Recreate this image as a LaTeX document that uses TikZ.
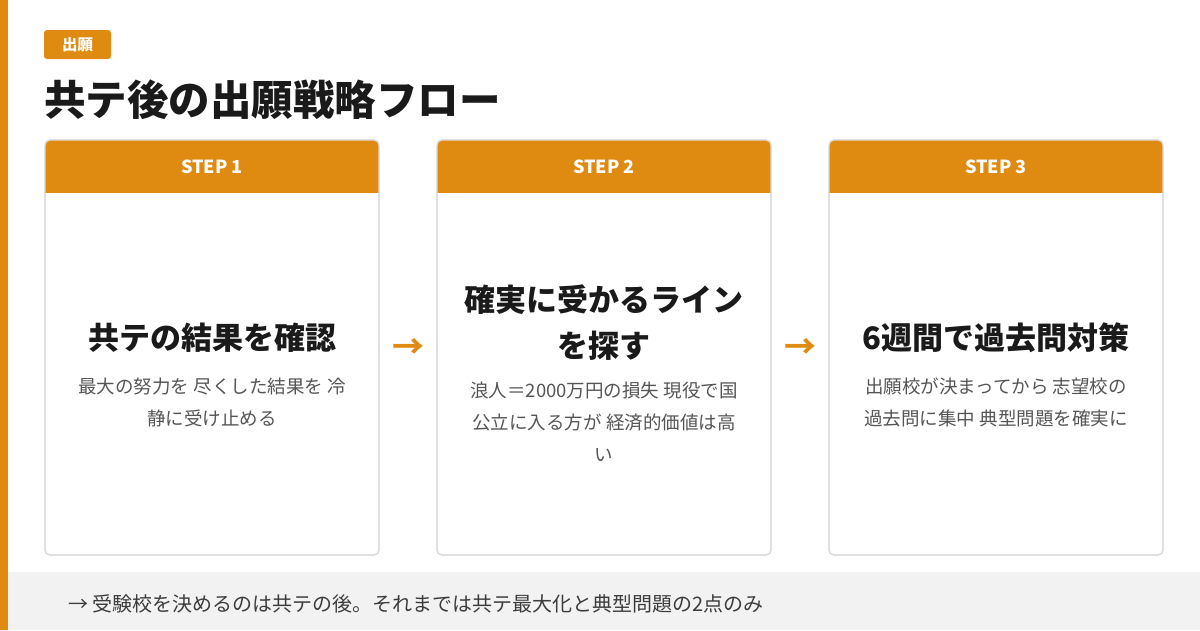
\documentclass[tikz,border=0pt]{standalone}
\usepackage{fontspec}
\setmainfont{Noto Sans CJK JP}
\begin{document}
\definecolor{org}{HTML}{DF8A10}
\definecolor{dark}{HTML}{1A1A1A}
\definecolor{body}{HTML}{555555}
\definecolor{bord}{HTML}{DDDDDD}
\definecolor{band}{HTML}{F2F2F2}
\begin{tikzpicture}[x=1pt,y=-1pt,
  card/.style={draw=bord,line width=1.2pt,rounded corners=5pt,fill=white},
  head/.style={font=\fontsize{18}{20}\selectfont\bfseries,text=white},
  ctitle/.style={font=\fontsize{31}{46}\selectfont\bfseries,text=dark,align=center},
  cbody/.style={font=\fontsize{18.5}{32}\selectfont,text=body,align=center},
  arr/.style={font=\fontsize{32}{30}\selectfont\bfseries,text=org}]
\useasboundingbox (0,0) rectangle (1200,630);
\fill[white] (0,0) rectangle (1200,630);
\fill[band] (8,572) rectangle (1200,630);
\fill[org] (0,0) rectangle (8,630);
\node[fill=org,rounded corners=3pt,minimum width=67pt,minimum height=29pt,text=white,font=\fontsize{15.5}{18}\selectfont\bfseries] (tag) at (77.5,44.5) {出願};
\node[anchor=west,inner sep=0,text=dark,font=\fontsize{41.5}{44}\selectfont\bfseries] (title) at (44,100) {共テ後の出願戦略フロー};
\foreach \x/\n in {45/1,437/2,829/3}{
  \draw[card] (\x,140) rectangle (\x+334,555);
  \begin{scope}
  \clip[rounded corners=5pt] (\x,140) rectangle (\x+334,555);
  \fill[org] (\x,140) rectangle (\x+334,193);
  \end{scope}
  \draw[bord,line width=1.2pt,rounded corners=5pt] (\x,140) rectangle (\x+334,555);
  \node[head] (h\n) at (\x+167,167) {STEP \n};
}
\node[ctitle] (t1) at (212,338) {共テの結果を確認};
\node[cbody] (b1) at (212,402) {最大の努力を 尽くした結果を 冷\\静に受け止める};
\node[ctitle] (t2) at (604,323) {確実に受かるライン\\を探す};
\node[cbody] (b2) at (604,422) {浪人＝2000万円の損失 現役で国\\公立に入る方が 経済的価値は高\\い};
\node[ctitle] (t3) at (996,338) {6週間で過去問対策};
\node[cbody] (b3) at (996,402) {出願校が決まってから 志望校の\\過去問に集中 典型問題を確実に};
\node[arr] (a1) at (408,349) {→};
\node[arr] (a2) at (800,349) {→};
\node[anchor=west,inner sep=0,text=dark!85,font=\fontsize{20}{22}\selectfont] (foot) at (68,604) {→ 受験校を決めるのは共テの後。それまでは共テ最大化と典型問題の2点のみ};
\end{tikzpicture}
\end{document}
